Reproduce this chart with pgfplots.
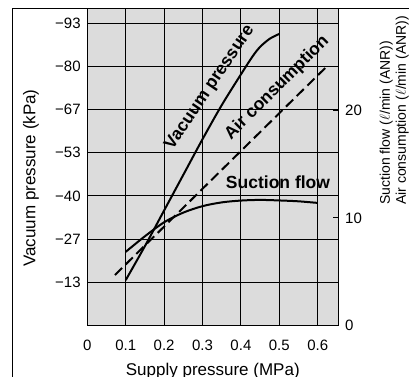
\documentclass[border=0pt]{standalone}
\usepackage{pgfplots}
\pgfplotsset{compat=1.18}
\usepackage{graphicx}
\usepackage{fontspec}
\setmainfont{Liberation Sans}
\definecolor{bg}{RGB}{220,220,220}
\pgfplotstableread{
x v
0.1 14
0.15 24.5
0.2 35.5
0.25 46.5
0.3 57.5
0.35 68
0.4 77.5
0.43 83
0.45 86
0.475 88.5
0.5 90
}\vacuum
\pgfplotstableread{
x f
0.1 6.85
0.15 8.3
0.2 9.6
0.25 10.5
0.3 11.1
0.35 11.45
0.4 11.62
0.45 11.68
0.5 11.63
0.55 11.55
0.6 11.4
}\suction
\pgfplotstableread{
x f
0.072 4.7
0.623 24.07
}\aircons
\begin{document}
\begin{tikzpicture}
\useasboundingbox (0pt,0pt) rectangle (409pt,376pt);
\draw[line width=1pt] (12pt,-10pt) -- (12pt,367.7pt) -- (420pt,367.7pt);
\begin{axis}[
  at={(87.3pt,50.5pt)}, anchor=south west,
  scale only axis, width=251pt, height=317.2pt,
  xmin=0, xmax=0.6536, ymin=0, ymax=97.9,
  axis background/.style={fill=bg},
  axis line style={line width=1pt},
  xtick={0,0.1,0.2,0.3,0.4,0.5,0.6},
  xticklabels={0,0.1,0.2,0.3,0.4,0.5,0.6},
  ytick={13.333,26.667,40,53.333,66.667,80,93.333},
  yticklabels={−13,−27,−40,−53,−67,−80,−93},
  major tick length=0pt,
  grid=major, grid style={black, line width=0.9pt},
  tick label style={font=\fontsize{15}{18}\selectfont},
  xticklabel style={anchor=base, inner sep=0pt, yshift=-25.2pt},
  yticklabel style={anchor=east, inner sep=0pt, xshift=-6.5pt},
  label style={font=\fontsize{17}{20}\selectfont},
  xlabel={Supply pressure (MPa)},
  ylabel={Vacuum pressure (kPa)},
  xlabel style={at={(axis description cs:0.5,-0.1576)}, anchor=base, inner sep=0pt},
  ylabel style={at={(axis description cs:-0.2064,0.465)}, anchor=base, inner sep=0pt},
]
\addplot[black, line width=2pt, smooth, tension=0.5] table[x=x,y=v] {\vacuum};
\end{axis}
\begin{axis}[
  at={(87.3pt,50.5pt)}, anchor=south west,
  scale only axis, width=251pt, height=317.2pt,
  xmin=0, xmax=0.6536, ymin=0, ymax=29.5,
  axis x line=none, axis y line*=right,
  axis line style={line width=1pt},
  ytick={0,10,20},
  major tick length=5pt, tick align=inside,
  tick style={line width=1pt, black},
  /pgf/number format/assume math mode=true,
  tick label style={font=\fontsize{15}{18}\selectfont},
  yticklabel style={anchor=west, inner sep=0pt, xshift=6.7pt},
]
\addplot[black, line width=2pt, smooth, tension=0.5] table[x=x,y=f] {\suction};
\addplot[black, line width=2pt, dash pattern=on 10pt off 5pt] table[x=x,y=f] {\aircons};
\end{axis}
\node[rotate=56, font=\bfseries\fontsize{17.5}{20}\selectfont] at (210pt,288.5pt) {Vacuum pressure};
\node[rotate=45, font=\bfseries\fontsize{17.5}{20}\selectfont] at (277pt,288pt) {Air consumption};
\node[font=\bfseries\fontsize{17.5}{20}\selectfont] at (278pt,194pt) {Suction flow};
\node[anchor=south west, inner sep=0pt] at (379.5pt,171pt) {\rotatebox{90}{\fontsize{14}{16}\selectfont Suction flow ($\ell$/min (ANR))}};
\node[anchor=south west, inner sep=0pt] at (395.5pt,171pt) {\rotatebox{90}{\fontsize{14}{16}\selectfont Air consumption ($\ell$/min (ANR))}};
\end{tikzpicture}
\end{document}
